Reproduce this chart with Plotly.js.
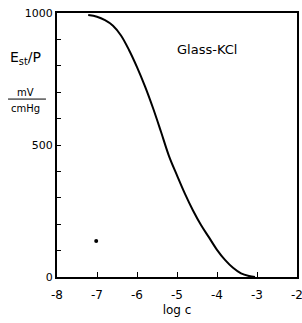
<!DOCTYPE html>
<html><head><meta charset="utf-8">
<script src="https://cdn.plot.ly/plotly-3.0.1.min.js"></script>
<style>html,body{margin:0;padding:0;background:#fff}</style>
</head><body><div id="chart" style="width:302px;height:323px"></div>
<script>
// Curve: E_st/P (mV/cmHg) vs log c
const logC = [-7.22, -7.0, -6.8, -6.6, -6.4, -6.2, -6.0, -5.8, -5.6, -5.4, -5.2, -5.0, -4.8, -4.6, -4.4, -4.2, -4.0, -3.8, -3.6, -3.4, -3.2, -3.05];
const estP = [992, 986, 973, 952, 915, 860, 795, 722, 640, 550, 458, 385, 315, 252, 197, 150, 103, 65, 35, 14, 4, 0];
// Isolated dot
const dotX = [-7.02];
const dotY = [136];
// Ticks
const xTicks = [-8, -7, -6, -5, -4, -3, -2];
const xTickText = ['-8', '-7', '-6', '-5', '-4', '-3', '-2'];
const yTicks = [0, 100, 200, 300, 400, 500, 600, 700, 800, 900, 1000];
const yTickText = ['0', '', '', '', '', '500', '', '', '', '', '1000'];

const fnt = {family: 'DejaVu Sans', size: 11, color: '#000'};
const tfnt = {family: 'DejaVu Sans', size: 12, color: '#000'};
const traces = [
  {x: logC, y: estP, mode: 'lines', line: {color: '#000', width: 2, shape: 'spline', smoothing: 1}, hoverinfo: 'skip'},
  {x: dotX, y: dotY, mode: 'markers', marker: {color: '#000', size: 4}, hoverinfo: 'skip'}
];
const layout = {
  width: 302, height: 323,
  margin: {l: 57, r: 5, t: 13, b: 46},
  paper_bgcolor: '#fff', plot_bgcolor: '#fff',
  showlegend: false,
  font: fnt,
  xaxis: {range: [-8, -2], tickvals: xTicks, ticktext: xTickText, ticks: 'inside', ticklen: 5,
    tickcolor: '#000', showline: true, linecolor: '#000', linewidth: 2, mirror: true,
    showgrid: false, zeroline: false, tickfont: tfnt, ticklabeloverflow: 'allow', ticklabelstandoff: 6,
    title: {text: 'log c', font: tfnt, standoff: 4}},
  yaxis: {range: [0, 1000], tickvals: yTicks, ticktext: yTickText, ticks: 'inside', ticklen: 4,
    tickcolor: '#000', showline: true, linecolor: '#000', linewidth: 2, mirror: true,
    showgrid: false, zeroline: false, tickfont: fnt, ticklabeloverflow: 'allow'},
  annotations: [
    {xref: 'paper', yref: 'paper', x: 0.625, y: 0.86, xanchor: 'center', yanchor: 'middle', text: 'Glass-KCl', showarrow: false, font: {family: 'DejaVu Sans', size: 13, color: '#000'}},
    {xref: 'paper', yref: 'paper', x: -0.133, y: 0.83, xanchor: 'center', yanchor: 'middle', text: 'E<sub>st</sub>/P', showarrow: false, font: {family: 'DejaVu Sans', size: 14, color: '#000'}},
    {xref: 'paper', yref: 'paper', x: -0.133, y: 0.70, xanchor: 'center', yanchor: 'middle', text: 'mV', showarrow: false, font: {family: 'DejaVu Sans', size: 10, color: '#000'}},
    {xref: 'paper', yref: 'paper', x: -0.133, y: 0.64, xanchor: 'center', yanchor: 'middle', text: 'cmHg', showarrow: false, font: {family: 'DejaVu Sans', size: 10, color: '#000'}}
  ],
  shapes: [
    {type: 'line', xref: 'paper', yref: 'paper', x0: -0.204, x1: -0.046, y0: 0.674, y1: 0.674, line: {color: '#000', width: 1}}
  ]
};
Plotly.newPlot('chart', traces, layout, {displayModeBar: false, staticPlot: true});
</script></body></html>
